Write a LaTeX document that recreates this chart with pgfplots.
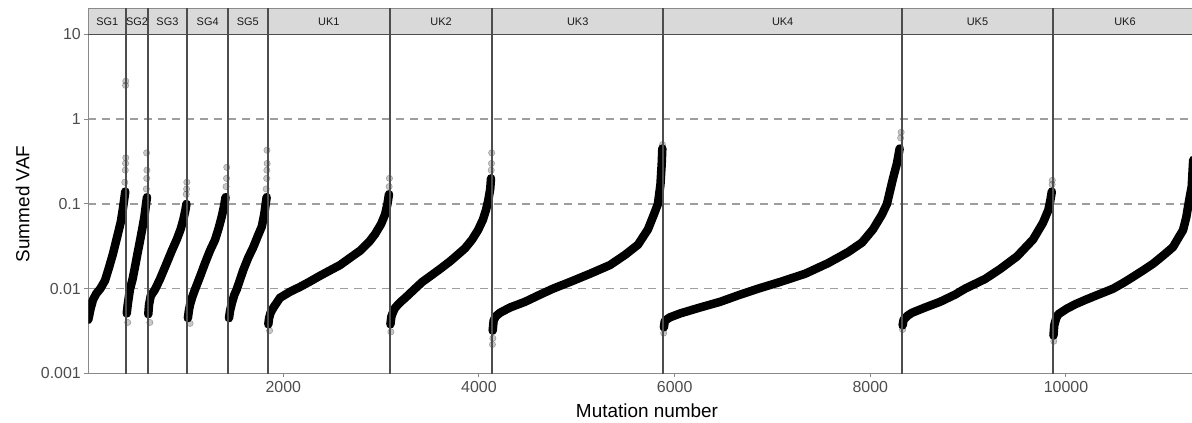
\documentclass[border=0pt]{standalone}
\usepackage{fontspec}
\setmainfont{Liberation Sans}
\usepackage{pgfplots}
\pgfplotsset{compat=1.18}
\definecolor{tickgray}{HTML}{4D4D4D}
\definecolor{axgray}{HTML}{8A8A8A}
\definecolor{sepgray}{HTML}{4D4D4D}
\definecolor{gridgray}{HTML}{9E9E9E}
\definecolor{stripfill}{HTML}{D9D9D9}
\definecolor{striptext}{HTML}{1A1A1A}
\begin{document}
\begin{tikzpicture}
\useasboundingbox (0,0) rectangle (1192bp,423bp);
\begin{axis}[
  at={(88.3bp,49.5bp)}, anchor=south west,
  scale only axis, width=1103.7bp, height=339.2bp,
  xmin=7, xmax=11288, ymode=log, ymin=0.001, ymax=10,
  axis x line*=bottom, axis y line*=left,
  axis line style={axgray, line width=1bp, -},
  xtick={2000,4000,6000,8000,10000},
  xticklabels={2000,4000,6000,8000,10000},
  scaled x ticks=false,
  ytick={0.001,0.01,0.1,1,10},
  yticklabels={0.001,0.01,0.1,1,10},
  yminorticks=false, xminorticks=false,
  tick align=outside, major tick length=4bp,
  tick style={axgray, line width=1bp},
  tick label style={font=\fontsize{16}{18}\selectfont, text=tickgray},
  /pgf/number format/assume math mode=true,
  ymajorgrids,
  grid style={gridgray, dash pattern=on 8bp off 6bp, line width=1.5bp},
  clip mode=individual,
  curve/.style={black, line width=8.5bp, line cap=round, line join=round, no marks},
  pts/.style={only marks, mark=*, mark size=3.2bp, mark options={fill=black, fill opacity=0.22, draw=black, draw opacity=0.3, line width=0.5bp}},
]
% SG1
\addplot[curve] coordinates {(7,0.0043) (30,0.0058) (55,0.0074) (90,0.0088) (130,0.0100) (178,0.0125) (220,0.018) (260,0.026) (290,0.036) (311,0.045) (340,0.062) (362,0.09) (375,0.115) (385,0.14)};
\addplot[pts] coordinates {(5,0.004) (380,0.18) (385,0.25) (388,0.3) (390,0.35) (388,2.5) (390,2.8)};
% SG2
\addplot[curve] coordinates {(400,0.0051) (410,0.0065) (433,0.0098) (460,0.013) (484,0.018) (510,0.026) (536,0.037) (560,0.052) (580,0.07) (597,0.1) (607,0.12)};
\addplot[pts] coordinates {(410,0.004) (600,0.15) (604,0.2) (606,0.25) (603,0.4)};
% SG3
\addplot[curve] coordinates {(620,0.005) (628,0.0065) (645,0.0082) (689,0.0098) (740,0.013) (808,0.02) (860,0.028) (911,0.038) (950,0.05) (978,0.065) (1000,0.085) (1010,0.1)};
\addplot[pts] coordinates {(636,0.004) (1008,0.13) (1012,0.15) (1014,0.18)};
% SG4
\addplot[curve] coordinates {(1025,0.0045) (1035,0.0055) (1047,0.0065) (1070,0.008) (1098,0.0098) (1150,0.014) (1200,0.02) (1250,0.028) (1302,0.0376) (1340,0.052) (1371,0.071) (1395,0.095) (1410,0.12)};
\addplot[pts] coordinates {(1047,0.0039) (1415,0.16) (1420,0.2) (1422,0.27)};
% SG5
\addplot[curve] coordinates {(1445,0.0045) (1456,0.0055) (1475,0.0068) (1500,0.0085) (1524,0.0098) (1560,0.013) (1591,0.0166) (1640,0.023) (1694,0.031) (1740,0.042) (1780,0.054) (1805,0.075) (1820,0.1) (1830,0.12)};
\addplot[pts] coordinates {(1825,0.15) (1830,0.2) (1832,0.25) (1835,0.3) (1833,0.43)};
% UK1
\addplot[curve] coordinates {(1847,0.0038) (1855,0.0045) (1870,0.0052) (1900,0.006) (1966,0.0078) (2068,0.0092) (2171,0.0105) (2275,0.0122) (2375,0.0142) (2480,0.0165) (2580,0.019) (2680,0.023) (2784,0.028) (2880,0.036) (2938,0.044) (3000,0.058) (3040,0.075) (3065,0.1) (3080,0.13)};
\addplot[pts] coordinates {(1860,0.0032) (3082,0.16) (3085,0.2)};
% UK2
\addplot[curve] coordinates {(3095,0.0038) (3105,0.0047) (3125,0.0054) (3145,0.006) (3200,0.007) (3247,0.0078) (3346,0.01) (3420,0.012) (3500,0.014) (3600,0.017) (3704,0.021) (3780,0.025) (3858,0.03) (3930,0.038) (3990,0.049) (4040,0.065) (4072,0.085) (4095,0.11) (4115,0.15) (4123,0.2)};
\addplot[pts] coordinates {(3100,0.0031) (4125,0.25) (4128,0.3) (4130,0.4)};
% UK3
\addplot[curve] coordinates {(4140,0.0032) (4150,0.0042) (4170,0.0047) (4215,0.0052) (4317,0.006) (4470,0.007) (4623,0.0085) (4756,0.01) (4930,0.012) (5134,0.015) (5339,0.019) (5492,0.025) (5625,0.033) (5727,0.05) (5788,0.075) (5829,0.1) (5855,0.17) (5868,0.3) (5874,0.45)};
\addplot[pts] coordinates {(4138,0.0022) (4142,0.0026) (5876,0.5)};
% UK4
\addplot[curve] coordinates {(5890,0.0035) (5900,0.0042) (5953,0.0046) (6055,0.0051) (6259,0.006) (6464,0.007) (6668,0.0085) (6852,0.01) (7077,0.012) (7333,0.015) (7568,0.02) (7772,0.027) (7915,0.035) (8027,0.05) (8119,0.075) (8170,0.1) (8232,0.2) (8272,0.3) (8300,0.45)};
\addplot[pts] coordinates {(5888,0.003) (8310,0.6) (8315,0.7)};
% UK5
\addplot[curve] coordinates {(8330,0.0037) (8340,0.0043) (8380,0.0048) (8426,0.0052) (8559,0.006) (8712,0.007) (8865,0.0085) (8968,0.01) (9172,0.013) (9325,0.017) (9499,0.024) (9663,0.038) (9765,0.06) (9820,0.085) (9840,0.11) (9855,0.14)};
\addplot[pts] coordinates {(8330,0.0033) (9858,0.17) (9860,0.19)};
% UK6
\addplot[curve] coordinates {(9872,0.0028) (9880,0.0037) (9900,0.0045) (9922,0.005) (10007,0.0058) (10100,0.0066) (10212,0.0075) (10350,0.0087) (10481,0.01) (10585,0.0117) (10685,0.0138) (10790,0.0165) (10890,0.0197) (11000,0.025) (11094,0.031) (11150,0.04) (11196,0.049) (11230,0.07) (11247,0.092) (11270,0.13) (11285,0.16) (11300,0.33)};
\addplot[pts] coordinates {(9875,0.0024)};
% strips and panel separators
\fill[stripfill] (axis cs:7,10) rectangle ([yshift=26bp]axis cs:11288,10);
\draw[axgray, line width=1bp] ([yshift=26bp]axis cs:7,10) -- ([yshift=26bp]axis cs:11288,10);
\draw[sepgray, line width=1.2bp] (axis cs:7,10) -- (axis cs:11288,10);
\draw[axgray, line width=1bp] (axis cs:7,10) -- ([yshift=26bp]axis cs:7,10);
\pgfplotsinvokeforeach{396,614,1019,1435,1841,3091,4134,5884,8324,9867}{
  \draw[sepgray, line width=1.8bp] (axis cs:#1,0.001) -- ([yshift=26bp]axis cs:#1,10);
}
\tikzset{strip/.style={font=\fontsize{11}{13}\selectfont, text=striptext, inner sep=0pt}}
\node[strip] at ([yshift=13bp]axis cs:201,10) {SG1};
\node[strip] at ([yshift=13bp]axis cs:505,10) {SG2};
\node[strip] at ([yshift=13bp]axis cs:816,10) {SG3};
\node[strip] at ([yshift=13bp]axis cs:1227,10) {SG4};
\node[strip] at ([yshift=13bp]axis cs:1638,10) {SG5};
\node[strip] at ([yshift=13bp]axis cs:2466,10) {UK1};
\node[strip] at ([yshift=13bp]axis cs:3612,10) {UK2};
\node[strip] at ([yshift=13bp]axis cs:5009,10) {UK3};
\node[strip] at ([yshift=13bp]axis cs:7104,10) {UK4};
\node[strip] at ([yshift=13bp]axis cs:9095,10) {UK5};
\node[strip] at ([yshift=13bp]axis cs:10603,10) {UK6};
\end{axis}
\node[rotate=90, font=\fontsize{19}{22}\selectfont] at (22.5bp,219bp) {Summed VAF};
\node[font=\fontsize{19}{22}\selectfont] at (647bp,12bp) {Mutation number};
\end{tikzpicture}
\end{document}
